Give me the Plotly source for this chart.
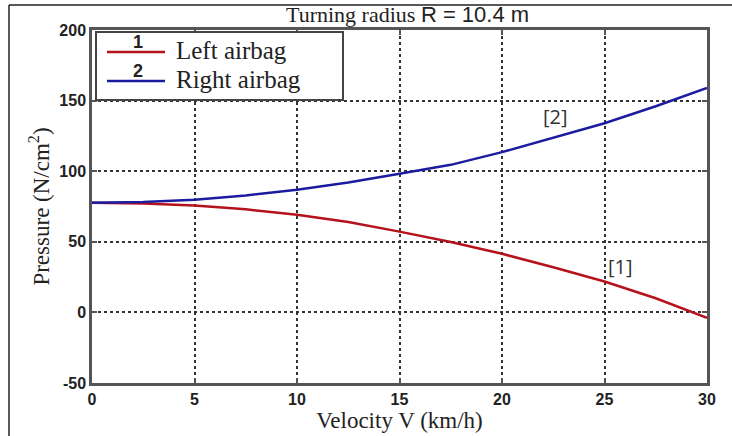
import plotly.graph_objects as go

velocity = [0, 2.5, 5, 7.5, 10, 12.5, 15, 17.5, 20, 22.5, 25, 27.5, 30]
left_airbag = [77.6, 77.2, 75.7, 73.0, 69.1, 64.0, 57.2, 49.8, 41.5, 32.0, 21.9, 10.0, -3.8]
right_airbag = [77.6, 78.2, 79.7, 82.8, 86.8, 92.0, 98.2, 104.5, 113.5, 123.5, 134.0, 146.0, 159.0]
x_ticks = [0, 5, 10, 15, 20, 25, 30]
y_ticks = [-50, 0, 50, 100, 150, 200]
y_tick_text = ["-50", "0", "50", "100", "150", "200"]

RED = "#b5121b"
BLUE = "#1c1ca0"
SERIF = "Liberation Serif, Times New Roman, serif"
SANS = "Liberation Sans, Arial, sans-serif"

fig = go.Figure()
fig.add_trace(go.Scatter(x=velocity, y=left_airbag, mode="lines", name="Left airbag",
                         line=dict(color=RED, width=2.5), showlegend=False))
fig.add_trace(go.Scatter(x=velocity, y=right_airbag, mode="lines", name="Right airbag",
                         line=dict(color=BLUE, width=2.5), showlegend=False))

L, R, T, B = 92, 25, 30, 53
W, H = 732, 436
pw, ph = W - L - R, H - T - B

def px(X):
    return (X - L) / pw

def py(Y):
    return 1 - (Y - T) / ph

axis_common = dict(showline=True, linecolor="#555555", linewidth=2.5, mirror="ticks",
                   ticks="inside", ticklen=5, tickcolor="#555555", tickwidth=1.5,
                   showgrid=True, gridcolor="#333333", gridwidth=1.5, griddash="3px,3px",
                   zeroline=False,
                   tickfont=dict(family=SANS, size=16, color="#222222", weight="bold"))

fig.update_xaxes(range=[0, 30], tickvals=x_ticks, **axis_common,
                 title=dict(text="Velocity V (km/h)", font=dict(family=SERIF, size=23, color="#222222"),
                            standoff=0))
fig.update_yaxes(range=[-50, 200], tickvals=y_ticks, ticktext=y_tick_text, **axis_common,
                 title=dict(text="Pressure (N/cm<sup>2</sup>)", font=dict(family=SERIF, size=23, color="#222222"),
                            standoff=4))

shapes = []
# image frame (left and top)
shapes.append(dict(type="line", xref="paper", yref="paper", x0=px(9), x1=px(9), y0=py(5), y1=py(436),
                   line=dict(color="#222222", width=1.5)))
shapes.append(dict(type="line", xref="paper", yref="paper", x0=px(9), x1=px(732), y0=py(5), y1=py(5),
                   line=dict(color="#222222", width=1.5)))
# legend box
shapes.append(dict(type="rect", xref="paper", yref="paper", x0=px(96), x1=px(343), y0=py(100), y1=py(32),
                   line=dict(color="#444444", width=2), fillcolor="white", layer="above"))
shapes.append(dict(type="line", xref="paper", yref="paper", x0=px(107), x1=px(165), y0=py(52), y1=py(52),
                   line=dict(color=RED, width=2.5)))
shapes.append(dict(type="line", xref="paper", yref="paper", x0=px(107), x1=px(165), y0=py(81), y1=py(81),
                   line=dict(color=BLUE, width=2.5)))

def ann(text, X, Y, font, xanchor="center"):
    return dict(text=text, x=px(X), y=py(Y), xref="paper", yref="paper", showarrow=False,
                xanchor=xanchor, yanchor="middle", font=font)

annotations = [
    ann("1", 138, 42, dict(family=SANS, size=18, color="#222222", weight="bold")),
    ann("2", 138, 71, dict(family=SANS, size=18, color="#222222", weight="bold")),
    ann("Left airbag", 174, 50, dict(family=SERIF, size=25, color="#222222"), "left"),
    ann("Right airbag", 174, 79, dict(family=SERIF, size=25, color="#222222"), "left"),
    ann("Turning radius <span style='font-family:Liberation Sans, Arial, sans-serif'>R = 10.4 m</span>",
        407, 14, dict(family=SERIF, size=22, color="#222222")),
    dict(text="[2]", x=22.6, y=138.7, showarrow=False, yanchor="middle",
         font=dict(family="Open Sans, sans-serif", size=20, color="#333333")),
    dict(text="[1]", x=25.8, y=32.5, showarrow=False, yanchor="middle",
         font=dict(family="Open Sans, sans-serif", size=20, color="#333333")),
]

fig.update_layout(width=W, height=H, margin=dict(l=L, r=R, t=T, b=B),
                  paper_bgcolor="white", plot_bgcolor="white",
                  shapes=shapes, annotations=annotations)

fig.write_html("out.html")
